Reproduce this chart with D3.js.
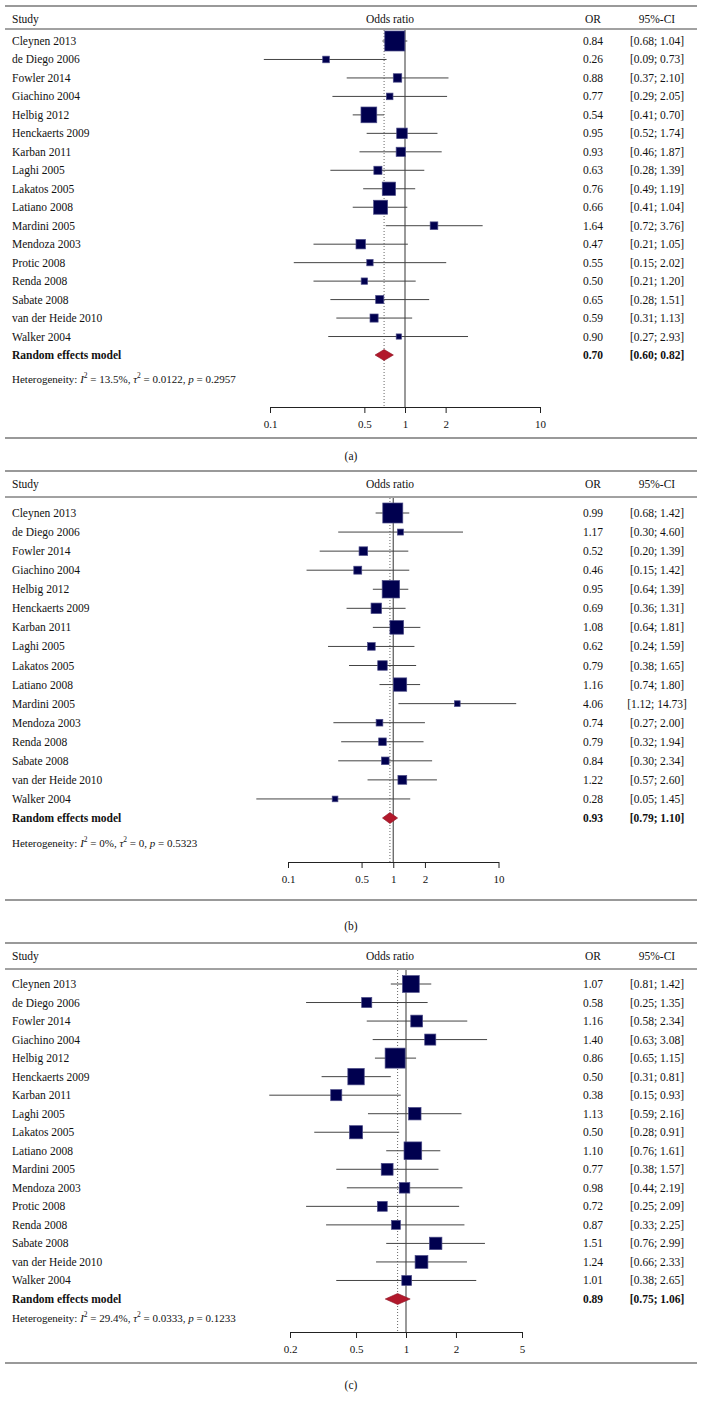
<!DOCTYPE html>
<html>
<head>
<meta charset="utf-8">
<script src="https://cdn.jsdelivr.net/npm/d3@7"></script>
<style>
body{margin:0;background:#fff;}
text{font-family:"Liberation Serif","DejaVu Serif",serif;fill:#111;}
</style>
</head>
<body>
<div id="chart"></div>
<script>
// study labels (panel b has no Protic 2008)
const studies = ["Cleynen 2013","de Diego 2006","Fowler 2014","Giachino 2004","Helbig 2012",
	"Henckaerts 2009","Karban 2011","Laghi 2005","Lakatos 2005","Latiano 2008","Mardini 2005",
	"Mendoza 2003","Protic 2008","Renda 2008","Sabate 2008","van der Heide 2010","Walker 2004"];
const studiesB = studies.filter(s => s !== "Protic 2008");

// panel (a)
const orA = [0.84,0.26,0.88,0.77,0.54,0.95,0.93,0.63,0.76,0.66,1.64,0.47,0.55,0.50,0.65,0.59,0.90];
const loA = [0.68,0.09,0.37,0.29,0.41,0.52,0.46,0.28,0.49,0.41,0.72,0.21,0.15,0.21,0.28,0.31,0.27];
const hiA = [1.04,0.73,2.10,2.05,0.70,1.74,1.87,1.39,1.19,1.04,3.76,1.05,2.02,1.20,1.51,1.13,2.93];
const wA  = [21.9,2.4,3.9,2.4,13.6,6.1,4.6,3.6,9.7,10.7,3.2,4.9,2.2,2.2,3.6,3.6,1.5];
const sumA = [0.70,0.60,0.82];
const hetA = ["13.5%","0.0122","0.2957"];
const ticksA = [0.1,0.5,1,2,10];

// panel (b)
const orB = [0.99,1.17,0.52,0.46,0.95,0.69,1.08,0.62,0.79,1.16,4.06,0.74,0.79,0.84,1.22,0.28];
const loB = [0.68,0.30,0.20,0.15,0.64,0.36,0.64,0.24,0.38,0.74,1.12,0.27,0.32,0.30,0.57,0.05];
const hiB = [1.42,4.60,1.39,1.42,1.39,1.31,1.81,1.59,1.65,1.80,14.73,2.00,1.94,2.34,2.60,1.45];
const wB  = [22.2,2.0,4.1,3.5,16.9,6.1,10.3,3.2,5.0,9.9,1.8,2.5,3.2,3.2,4.3,1.8];
const sumB = [0.93,0.79,1.10];
const hetB = ["0%","0","0.5323"];
const ticksB = [0.1,0.5,1,2,10];

// panel (c)
const orC = [1.07,0.58,1.16,1.40,0.86,0.50,0.38,1.13,0.50,1.10,0.77,0.98,0.72,0.87,1.51,1.24,1.01];
const loC = [0.81,0.25,0.58,0.63,0.65,0.31,0.15,0.59,0.28,0.76,0.38,0.44,0.25,0.33,0.76,0.66,0.38];
const hiC = [1.42,1.35,2.34,3.08,1.15,0.81,0.93,2.16,0.91,1.61,1.57,2.19,2.09,2.25,2.99,2.33,2.65];
const wC  = [9.6,3.5,4.8,4.2,13.7,9.2,4.2,5.3,5.9,10.7,4.8,3.8,3.3,2.7,5.3,5.6,3.3];
const sumC = [0.89,0.75,1.06];
const hetC = ["29.4%","0.0333","0.1233"];
const ticksC = [0.2,0.5,1,2,5];

const W = 702, H = 1401;
const svg = d3.select("#chart").append("svg").attr("width", W).attr("height", H);
svg.append("rect").attr("width", W).attr("height", H).attr("fill", "#fff");

const panels = [
	{tag:"(a)", names:studies, or:orA, lo:loA, hi:hiA, w:wA, sum:sumA, het:hetA, ticks:ticksA,
	 top:6, head:19, headRule:29, first:41, last:355, hetY:379, axisY:407, bottom:438, labY:456, r0:270, r1:540},
	{tag:"(b)", names:studiesB, or:orB, lo:loB, hi:hiB, w:wB, sum:sumB, het:hetB, ticks:ticksB,
	 top:471, head:484, headRule:497, first:513, last:818, hetY:843, axisY:862, bottom:900, labY:926, r0:288, r1:498.5},
	{tag:"(c)", names:studies, or:orC, lo:loC, hi:hiC, w:wC, sum:sumC, het:hetC, ticks:ticksC,
	 top:943, head:956, headRule:969, first:984, last:1299, hetY:1318, axisY:1332, bottom:1363, labY:1385, r0:290, r1:522}
];

const fmt = d3.format(".2f");
const ciText = (l, h) => "[" + fmt(l) + "; " + fmt(h) + "]";
const xOR = 593, xCI = 657, xStudy = 12, xHead = 390;

panels.forEach(drawPanel);

function drawPanel(p){
	const g = svg.append("g");
	const rowKeys = p.names.concat(["Random effects model"]);
	const y = d3.scalePoint().domain(rowKeys).range([p.first, p.last]);
	const x = d3.scaleLog().domain([p.ticks[0], p.ticks[p.ticks.length-1]]).range([p.r0, p.r1]);
	const size = d3.scaleSqrt().domain([0, d3.max(p.w)]).range([0, 20]);
	const rows = p.names.map((n, i) => ({name:n, or:p.or[i], lo:p.lo[i], hi:p.hi[i], w:p.w[i]}));

	// rules
	g.append("line").attr("x1", 5).attr("x2", 697).attr("y1", p.top).attr("y2", p.top)
		.attr("stroke", "#777").attr("stroke-width", 1.6);
	g.append("line").attr("x1", 5).attr("x2", 697).attr("y1", p.headRule).attr("y2", p.headRule)
		.attr("stroke", "#444").attr("stroke-width", 1);
	g.append("line").attr("x1", 5).attr("x2", 697).attr("y1", p.bottom).attr("y2", p.bottom)
		.attr("stroke", "#777").attr("stroke-width", 1.6);

	// header
	const hdr = g.append("g").attr("font-size", 11.5);
	hdr.append("text").attr("x", xStudy).attr("y", p.head).attr("dominant-baseline", "central").text("Study");
	hdr.append("text").attr("x", xHead).attr("y", p.head).attr("text-anchor", "middle").attr("dominant-baseline", "central").text("Odds ratio");
	hdr.append("text").attr("x", xOR).attr("y", p.head).attr("text-anchor", "middle").attr("dominant-baseline", "central").text("OR");
	hdr.append("text").attr("x", xCI).attr("y", p.head).attr("text-anchor", "middle").attr("dominant-baseline", "central").text("95%-CI");

	// reference lines
	g.append("line").attr("x1", x(1)).attr("x2", x(1)).attr("y1", p.headRule + 1).attr("y2", p.axisY)
		.attr("stroke", "#555").attr("stroke-width", 1.2);
	g.append("line").attr("x1", x(p.sum[0])).attr("x2", x(p.sum[0])).attr("y1", p.headRule + 1).attr("y2", p.axisY)
		.attr("stroke", "#666").attr("stroke-width", 1).attr("stroke-dasharray", "1,2");

	// CI lines
	g.append("g").selectAll("line").data(rows).join("line")
		.attr("x1", d => x(d.lo)).attr("x2", d => x(d.hi))
		.attr("y1", d => y(d.name)).attr("y2", d => y(d.name))
		.attr("stroke", "#444").attr("stroke-width", 1);

	// squares
	g.append("g").selectAll("rect").data(rows).join("rect")
		.attr("x", d => x(d.or) - size(d.w) / 2)
		.attr("y", d => y(d.name) - size(d.w) / 2)
		.attr("width", d => size(d.w)).attr("height", d => size(d.w))
		.attr("fill", "#00004f").attr("stroke", "#4a4a86").attr("stroke-width", 0.7);

	// diamond
	const yr = y("Random effects model");
	g.append("path")
		.attr("d", "M" + x(p.sum[1]) + "," + yr + "L" + x(p.sum[0]) + "," + (yr - 5.5)
			+ "L" + x(p.sum[2]) + "," + yr + "L" + x(p.sum[0]) + "," + (yr + 5.5) + "Z")
		.attr("fill", "#b2182b").attr("stroke", "#8a1020").attr("stroke-width", 0.6);

	// row text
	const tx = g.append("g").attr("font-size", 11.5);
	tx.selectAll("text.st").data(rows).join("text").attr("class", "st")
		.attr("x", xStudy).attr("y", d => y(d.name)).attr("dominant-baseline", "central").text(d => d.name);
	tx.selectAll("text.or").data(rows).join("text").attr("class", "or")
		.attr("x", xOR).attr("y", d => y(d.name)).attr("text-anchor", "middle").attr("dominant-baseline", "central").text(d => fmt(d.or));
	tx.selectAll("text.ci").data(rows).join("text").attr("class", "ci")
		.attr("x", xCI).attr("y", d => y(d.name)).attr("text-anchor", "middle").attr("dominant-baseline", "central").text(d => ciText(d.lo, d.hi));
	tx.append("text").attr("x", xStudy).attr("y", yr).attr("dominant-baseline", "central").attr("font-weight", "bold").text("Random effects model");
	tx.append("text").attr("x", xOR).attr("y", yr).attr("text-anchor", "middle").attr("dominant-baseline", "central").attr("font-weight", "bold").text(fmt(p.sum[0]));
	tx.append("text").attr("x", xCI).attr("y", yr).attr("text-anchor", "middle").attr("dominant-baseline", "central").attr("font-weight", "bold").text(ciText(p.sum[1], p.sum[2]));

	// heterogeneity
	const ht = g.append("text").attr("x", xStudy).attr("y", p.hetY).attr("dominant-baseline", "central").attr("font-size", 11);
	ht.append("tspan").text("Heterogeneity: ");
	ht.append("tspan").attr("font-style", "italic").text("I");
	ht.append("tspan").attr("font-size", 7.5).attr("dy", -4).text("2");
	ht.append("tspan").attr("dy", 4).text(" = " + p.het[0] + ", ");
	ht.append("tspan").attr("font-style", "italic").text("τ");
	ht.append("tspan").attr("font-size", 7.5).attr("dy", -4).text("2");
	ht.append("tspan").attr("dy", 4).text(" = " + p.het[1] + ", ");
	ht.append("tspan").attr("font-style", "italic").text("p");
	ht.append("tspan").text(" = " + p.het[2]);

	// axis
	const ax = g.append("g").attr("transform", "translate(0," + p.axisY + ")")
		.call(d3.axisBottom(x).tickValues(p.ticks).tickFormat(d3.format("~g")).tickSize(6).tickSizeOuter(0).tickPadding(7));
	ax.attr("font-family", null).attr("font-size", 11);
	ax.selectAll("path, line").attr("stroke", "#222");

	// panel label
	g.append("text").attr("x", 351).attr("y", p.labY).attr("text-anchor", "middle").attr("dominant-baseline", "central")
		.attr("font-size", 11.5).text(p.tag);
}
</script>
</body>
</html>
